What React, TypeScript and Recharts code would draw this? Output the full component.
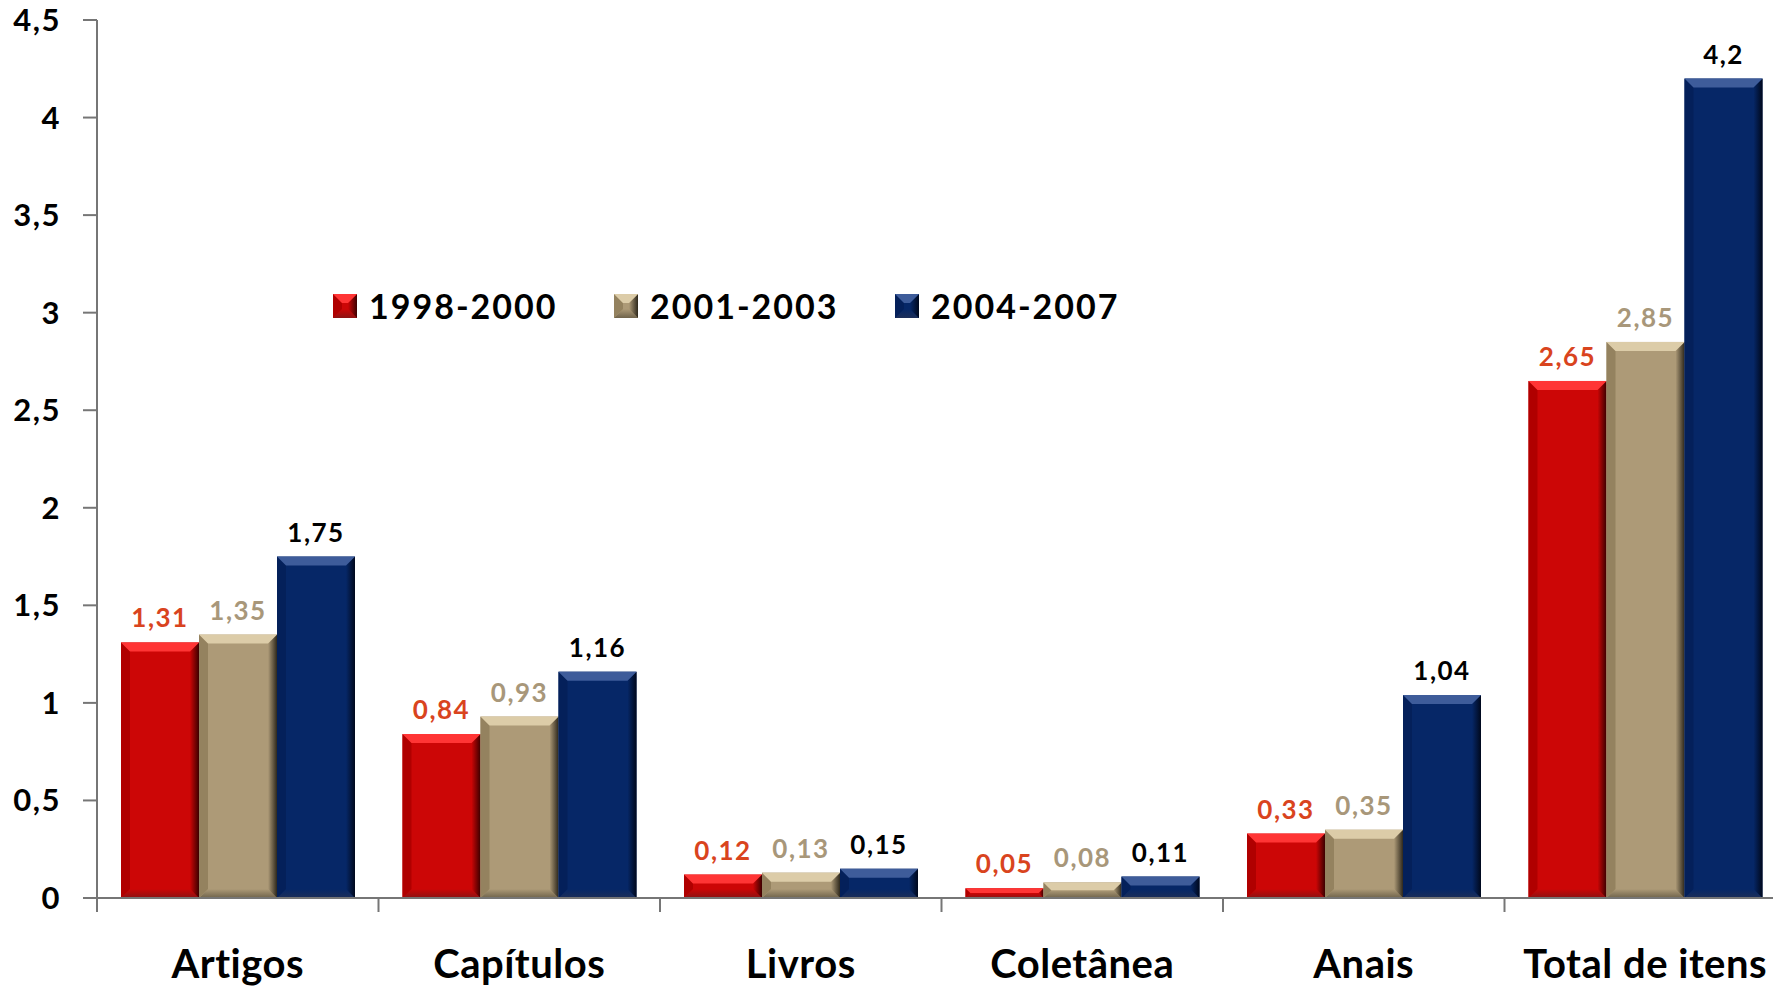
import { BarChart, Bar, XAxis, YAxis, Legend, LabelList } from "recharts";

const categories = ["Artigos", "Capítulos", "Livros", "Coletânea", "Anais", "Total de itens"];
const values1998 = [1.31, 0.84, 0.12, 0.05, 0.33, 2.65];
const values2001 = [1.35, 0.93, 0.13, 0.08, 0.35, 2.85];
const values2004 = [1.75, 1.16, 0.15, 0.11, 1.04, 4.2];
const yTicks = [0, 0.5, 1, 1.5, 2, 2.5, 3, 3.5, 4, 4.5];

const series = [
  {
    key: "p1998",
    name: "1998-2000",
    label: "#d9441e",
    colors: { base: "#cc0606", top: "#ff3535", bottom: "#8c1212", left: "#b00000", right: "#3c0000" },
  },
  {
    key: "p2001",
    name: "2001-2003",
    label: "#a8977a",
    colors: { base: "#ad9a77", top: "#dccca8", bottom: "#6f634b", left: "#94825f", right: "#2e281c" },
  },
  {
    key: "p2004",
    name: "2004-2007",
    label: "#000000",
    colors: { base: "#062767", top: "#3e5c9a", bottom: "#1c2e58", left: "#04205a", right: "#00081c" },
  },
];

const data = categories.map((name, i) => ({
  name,
  p1998: values1998[i],
  p2001: values2001[i],
  p2004: values2004[i],
}));

const FONT = "Lato, 'Open Sans', sans-serif";
const AXIS = "#767676";

const comma = (v: number) => String(v).replace(".", ",");

function BevelBar(props: any) {
  const { x, y, width, height, colors, id } = props;
  if (!height || height <= 0) return null;
  const b = Math.min(9, width / 2, height / 2);
  const r = x + width;
  const btm = y + height;
  return (
    <g>
      <defs>
        <linearGradient id={`rg-${id}`} x1="0" y1="0" x2="1" y2="0">
          <stop offset="0%" stopColor={colors.base} />
          <stop offset="100%" stopColor={colors.right} />
        </linearGradient>
        <linearGradient id={`bg-${id}`} x1="0" y1="0" x2="0" y2="1">
          <stop offset="0%" stopColor={colors.base} />
          <stop offset="100%" stopColor={colors.bottom} />
        </linearGradient>
      </defs>
      <rect x={x} y={y} width={width} height={height} fill={colors.base} />
      <polygon
        points={`${x},${btm} ${r},${btm} ${r - b},${btm - b} ${x + b},${btm - b}`}
        fill={`url(#bg-${id})`}
      />
      <polygon
        points={`${x},${y} ${x + b},${y + b} ${x + b},${btm - b} ${x},${btm}`}
        fill={colors.left}
      />
      <polygon
        points={`${r},${y} ${r},${btm} ${r - b},${btm - b} ${r - b},${y + b}`}
        fill={`url(#rg-${id})`}
      />
      <polygon
        points={`${x},${y} ${r},${y} ${r - b},${y + b} ${x + b},${y + b}`}
        fill={colors.top}
      />
    </g>
  );
}

function CategoryTick(props: any) {
  const { x, y, payload } = props;
  const left = x - (payload.offset ?? 0);
  return (
    <g>
      <line x1={left} x2={left} y1={y - 52} y2={y - 38} stroke={AXIS} strokeWidth={2} />
      <text
        x={x}
        y={y}
        dy="0.71em"
        textAnchor="middle"
        fill="#000"
        fontFamily={FONT}
        fontWeight={700}
        fontSize={40}
        letterSpacing={0.5}
      >
        {payload.value}
      </text>
    </g>
  );
}

function LegendContent() {
  return (
    <div style={{ display: "flex", alignItems: "center", fontFamily: FONT }}>
      {series.map((s) => (
        <div key={s.key} style={{ display: "flex", alignItems: "center", width: 281 }}>
          <svg width={24} height={24} style={{ marginRight: 12 }}>
            <BevelBar x={0} y={0} width={24} height={24} colors={s.colors} id={`lg-${s.key}`} />
          </svg>
          <span style={{ fontSize: 34, fontWeight: 700, color: "#000", letterSpacing: 2 }}>{s.name}</span>
        </div>
      ))}
    </div>
  );
}

export default function App() {
  return (
    <div
      style={{
        position: "fixed",
        left: 0,
        top: 0,
        width: 1773,
        height: 987,
        overflow: "hidden",
        background: "#fff",
      }}
    >
      <BarChart
        width={1786}
        height={987}
        data={data}
        margin={{ top: 20, right: 0, left: 0, bottom: 0 }}
        barGap={0}
        barSize={78}
      >
        <YAxis
          width={97}
          domain={[0, 4.5]}
          ticks={yTicks}
          interval={0}
          tickFormatter={comma}
          tickSize={14}
          tickMargin={22}
          axisLine={{ stroke: AXIS, strokeWidth: 2 }}
          tickLine={{ stroke: AXIS, strokeWidth: 2 }}
          tick={{ fill: "#000", fontFamily: FONT, fontWeight: 700, fontSize: 31, letterSpacing: 1.5 }}
        />
        <XAxis
          dataKey="name"
          height={89}
          interval={0}
          tickSize={0}
          tickMargin={52}
          tickLine={false}
          axisLine={{ stroke: AXIS, strokeWidth: 2 }}
          tick={<CategoryTick />}
        />
        <Legend
          layout="horizontal"
          verticalAlign="middle"
          content={<LegendContent />}
          wrapperStyle={{ top: 285, left: 333, width: "auto" }}
        />
        {series.map((s) => (
          <Bar
            key={s.key}
            dataKey={s.key}
            name={s.name}
            fill={s.colors.base}
            isAnimationActive={false}
            shape={(p: any) => <BevelBar {...p} colors={s.colors} id={s.key} />}
          >
            <LabelList
              dataKey={s.key}
              position="top"
              offset={15}
              formatter={(v: any) => comma(v)}
              fill={s.label}
              style={{ fontFamily: FONT, fontWeight: 700, fontSize: 26, letterSpacing: 1.5 }}
            />
          </Bar>
        ))}
      </BarChart>
    </div>
  );
}
